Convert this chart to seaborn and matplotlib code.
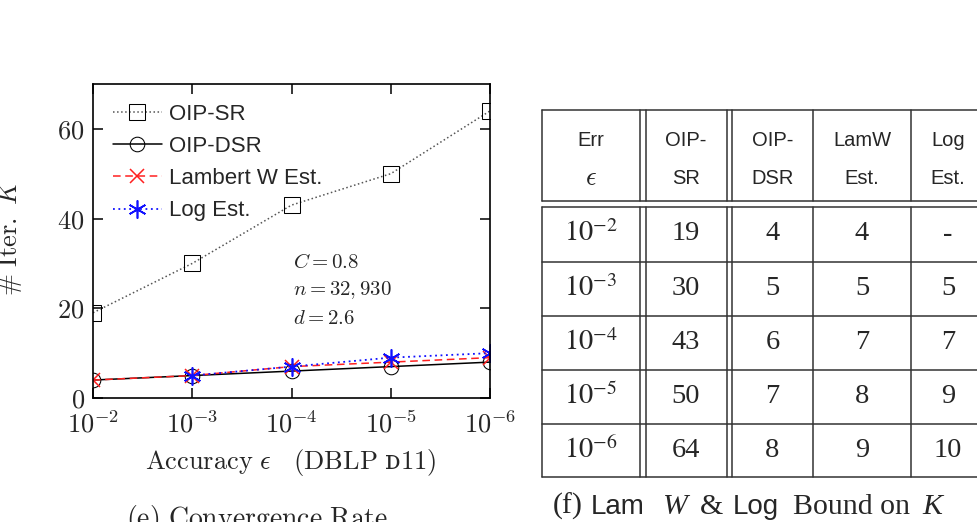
import numpy as np
import pandas as pd
import matplotlib
matplotlib.use("Agg")
import matplotlib.pyplot as plt
import seaborn as sns

# accuracy levels (x categories) and iteration counts K
eps_labels = ["$10^{-2}$", "$10^{-3}$", "$10^{-4}$", "$10^{-5}$", "$10^{-6}$"]
oip_sr = [19, 30, 43, 50, 64]
oip_dsr = [4, 5, 6, 7, 8]
lamw_est = [4, 5, 7, 8, 9]
log_est = [np.nan, 5, 7, 9, 10]

series_names = ["OIP-SR", "OIP-DSR", "Lambert W Est.", "Log Est."]
y_ticks = [0, 20, 40, 60]
params_text = ["$C = 0.8$", "$n = 32,930$", "$d = 2.6$"]
table_heads = [("Err", "$\\epsilon$"), ("OIP-", "SR"), ("OIP-", "DSR"),
               ("LamW", "Est."), ("Log", "Est.")]

sns.set_theme(style="ticks")
plt.rcParams["mathtext.fontset"] = "cm"
plt.rcParams["font.family"] = ["Liberation Sans", "DejaVu Sans"]

df = pd.DataFrame({
    "x": list(range(len(eps_labels))) * 4,
    "K": oip_sr + oip_dsr + lamw_est + log_est,
    "series": sum([[s] * len(eps_labels) for s in series_names], []),
})

styles = {
    "OIP-SR": dict(color="#555555", linestyle=":", marker="s", markersize=11,
                   markeredgecolor="black", lw=1.1),
    "OIP-DSR": dict(color="black", linestyle="-", marker="o", markersize=10.5,
                    markeredgecolor="black", lw=1.1),
    "Lambert W Est.": dict(color="#ff2020", linestyle=(0, (5, 3)), marker="x", markersize=10,
                           markeredgecolor="#ff2020", lw=1.1, markeredgewidth=1.1),
    "Log Est.": dict(color="#1010ff", linestyle=(0, (1, 2)), marker=(6, 2, 0), markersize=13,
                     markeredgecolor="#1010ff", lw=1.3, markeredgewidth=1.2),
}

fig = plt.figure(figsize=(9.78, 5.22), dpi=100)
ax = fig.add_axes([93 / 978, 1 - 398 / 522, 397 / 978, 314 / 522])

for name in series_names:
    sub = df[df["series"] == name]
    sns.lineplot(data=sub, x="x", y="K", ax=ax, label=name,
                 markerfacecolor="none", **styles[name])

ax.set_xlim(0, len(eps_labels) - 1)
ax.set_ylim(0, 70)
ax.set_xticks(range(len(eps_labels)))
ax.set_xticklabels(eps_labels)
ax.set_yticks(y_ticks)
ax.set_yticklabels(["$%d$" % v for v in y_ticks])
ax.tick_params(direction="in", length=7, width=1.1, labelsize=19, pad=6,
               top=True, right=True, color="black")
ax.tick_params(axis="x", pad=9)
for sp in ax.spines.values():
    sp.set_linewidth(1.2)
    sp.set_color("black")
ax.set_xlabel("")
ax.set_ylabel("")

leg = ax.legend(loc="upper left", frameon=False, fontsize=16, handlelength=2.2,
                handletextpad=0.3, labelspacing=0.5, borderaxespad=0.5)

# overlay in figure pixel coordinates for labels, captions and the table
ov = fig.add_axes([0, 0, 1, 1])
ov.set_xlim(0, 978)
ov.set_ylim(522, 0)
ov.axis("off")

for i, t in enumerate(params_text):
    ov.text(293, 262 + i * 28.5, t, fontsize=15, va="center", ha="left")

ov.text(10, 238, r"$\#\ \mathrm{Iter.}\ K$", rotation=90, fontsize=19, ha="center", va="center")
ov.text(291, 463, r"$\mathrm{Accuracy}\ \epsilon\quad(\mathrm{DBLP}\ $" + "ᴅ" + r"$\mathrm{11})$",
        fontsize=19, ha="center", va="center", family=["DejaVu Serif"])
ov.text(257, 503, r"$\mathrm{(e)\ Convergence\ Rate}$", fontsize=20, ha="center", va="top")

# table
vlines = [541.5, 640, 646, 726.5, 732, 813, 911, 995]
hlines = [110, 200.5, 206.5, 261.5, 315.5, 369.5, 423.5, 477]
for x in vlines:
    ov.plot([x, x], [hlines[0], hlines[1]], color="#333333", lw=1.1)
    ov.plot([x, x], [hlines[2], hlines[-1]], color="#333333", lw=1.1)
for y in hlines:
    ov.plot([vlines[0], vlines[-1]], [y, y], color="#333333", lw=1.1)

col_centers = [591, 686, 772.5, 862, 948]
for cx, (h1, h2) in zip(col_centers, table_heads):
    ov.text(cx, 140, h1, fontsize=14.5, ha="center", va="center", family="Liberation Sans")
    ov.text(cx, 178, h2, fontsize=14.5 if "$" not in h2 else 19, ha="center", va="center",
            family="Liberation Sans")

columns = [eps_labels, oip_sr, oip_dsr, lamw_est, log_est]
for r in range(len(eps_labels)):
    cy = (hlines[r + 2] + hlines[r + 3]) / 2
    for cx, col in zip(col_centers, columns):
        v = col[r]
        if isinstance(v, str):
            s = v
        elif np.isnan(v):
            s = "-"
        else:
            s = "%d" % v
        ov.text(cx, cy, s, fontsize=20.5, ha="center", va="center",
                family="Liberation Serif", math_fontfamily="stix")

# caption (f) assembled from pieces of different fonts
pieces = [("(f)", "Liberation Serif", "normal", 553, 21.5), ("Lam", "Liberation Sans", "normal", 591, 20),
          ("W", "Liberation Serif", "italic", 662, 21.5), ("&", "Liberation Serif", "normal", 700, 21.5),
          ("Log", "Liberation Sans", "normal", 733, 20), ("Bound on", "Liberation Serif", "normal", 793, 21.5),
          ("K", "Liberation Serif", "italic", 922, 21.5)]
for txt, fam, sty, px, fs in pieces:
    ov.text(px, 514, txt, fontsize=fs, ha="left", va="baseline", family=fam, style=sty)

fig.savefig("out.png", dpi=100)
